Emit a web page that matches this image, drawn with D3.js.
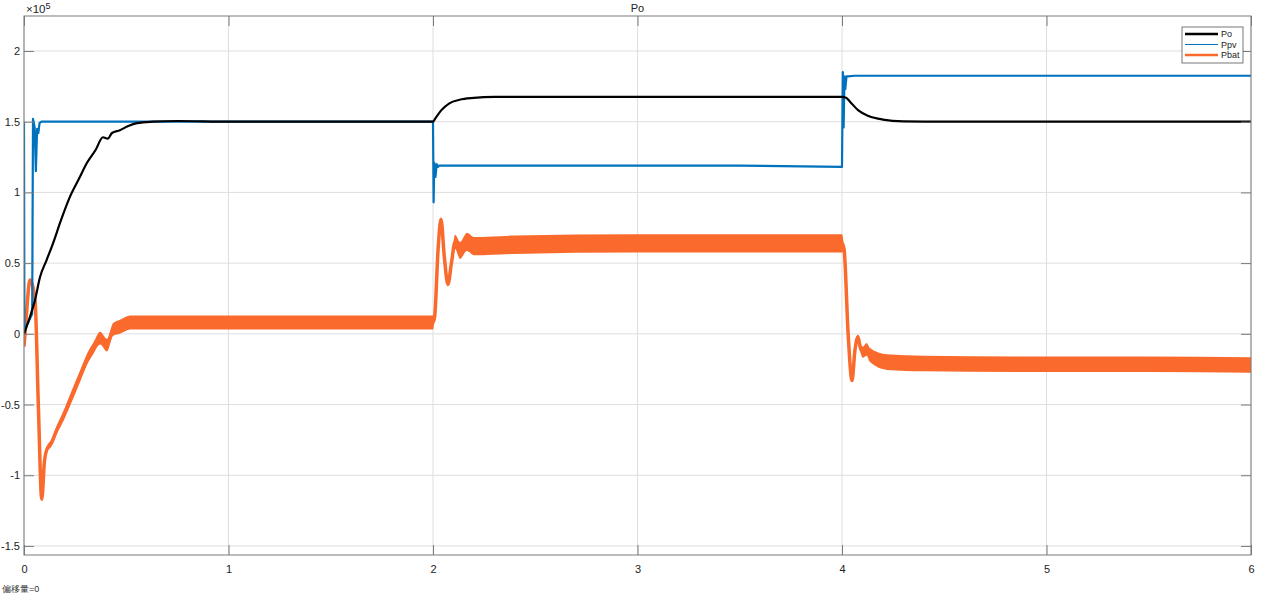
<!DOCTYPE html>
<html><head><meta charset="utf-8">
<script src="https://cdn.jsdelivr.net/npm/d3@7"></script>
<style>
body{margin:0;background:#fff;}
svg{display:block;font-family:"Liberation Sans","DejaVu Sans",Arial,sans-serif;}
</style></head>
<body><svg id="c" width="1262" height="596"></svg>
<script>
// Data (values in units of 1e5)
const xTicks = [0,1,2,3,4,5,6];
const yTicks = [-1.5,-1,-0.5,0,0.5,1,1.5,2];
const yTickLabels = ["-1.5","-1","-0.5","0","0.5","1","1.5","2"];
const seriesNames = ["Po","Ppv","Pbat"];

const poT = [0,0.02,0.04,0.054,0.078,0.11,0.142,0.18,0.225,0.27,0.308,0.35,0.386,0.41,0.43,0.469,0.51,0.553,0.63,0.75,1.0,1.5,2.0,2.01,2.04,2.08,2.13,2.2,2.3,2.5,3.0,3.5,4.0,4.02,4.04,4.08,4.13,4.2,4.3,4.5,5.0,6.0];
const poV = [0,0.08,0.17,0.24,0.40,0.52,0.64,0.80,0.97,1.10,1.21,1.30,1.39,1.38,1.42,1.44,1.47,1.49,1.50,1.505,1.50,1.50,1.50,1.52,1.58,1.63,1.655,1.668,1.675,1.676,1.675,1.675,1.675,1.67,1.64,1.58,1.54,1.515,1.503,1.50,1.50,1.50];

const pvT = [0,0.002,0.02,0.04,0.044,0.047,0.052,0.058,0.064,0.07,0.076,0.085,0.1,0.5,1.0,1.5,2.0,2.003,2.006,2.012,2.018,2.024,2.03,2.06,2.5,3.0,3.5,3.999,4.0,4.004,4.008,4.012,4.016,4.022,4.03,4.06,4.5,5.0,5.5,6.0];
const pvV = [1.5,0.03,0.08,0.14,1.52,1.50,1.46,1.15,1.45,1.42,1.49,1.50,1.50,1.50,1.50,1.50,1.50,0.93,1.21,1.11,1.20,1.18,1.19,1.19,1.19,1.19,1.19,1.18,1.18,1.85,1.46,1.82,1.73,1.82,1.82,1.825,1.825,1.825,1.825,1.825];

const batT = [0,0.005,0.03,0.054,0.07,0.087,0.1,0.111,0.135,0.16,0.19,0.225,0.274,0.308,0.34,0.372,0.406,0.435,0.469,0.52,0.567,0.7,1.0,1.5,2.0,2.008,2.025,2.039,2.055,2.073,2.09,2.108,2.132,2.166,2.2,2.4,3.0,3.5,4.0,4.01,4.03,4.049,4.063,4.078,4.09,4.103,4.12,4.137,4.22,4.4,5.0,5.5,6.0];
const batV = [-0.09,0.0,0.38,0.24,-0.5,-1.17,-0.9,-0.82,-0.77,-0.68,-0.59,-0.47,-0.30,-0.18,-0.10,-0.03,-0.08,0.03,0.05,0.08,0.08,0.08,0.08,0.08,0.08,0.12,0.6,0.81,0.55,0.35,0.5,0.65,0.59,0.65,0.62,0.63,0.64,0.64,0.64,0.6,0.0,-0.33,-0.12,-0.02,-0.1,-0.13,-0.11,-0.15,-0.2,-0.21,-0.215,-0.215,-0.22];
const batRipple = [0,0,0,0,0,0,0.01,0.02,0.025,0.03,0.035,0.04,0.04,0.04,0.04,0.045,0.045,0.045,0.05,0.05,0.05,0.05,0.05,0.05,0.05,0.01,0.005,0.005,0.01,0.015,0.03,0.05,0.06,0.065,0.065,0.065,0.065,0.065,0.065,0.01,0.005,0.005,0.01,0.015,0.03,0.04,0.045,0.05,0.055,0.055,0.055,0.055,0.055];

const colors = {Po:"#000000", Ppv:"#0072BD", Pbat:"#FA6A2C"};

const svg = d3.select("#c");
const L=24, R=1251, T=16, B=555;
const x = d3.scaleLinear().domain([0,6]).range([L,R]);
const y = d3.scaleLinear().domain([-1.564,2.2475]).range([B,T]);

// grid
const g = svg.append("g");
g.selectAll("line.gx").data(xTicks).join("line")
  .attr("x1",d=>x(d)).attr("x2",d=>x(d)).attr("y1",T).attr("y2",B)
  .attr("stroke","#dedede").attr("stroke-width",1);
g.selectAll("line.gy").data(yTicks).join("line")
  .attr("y1",d=>y(d)).attr("y2",d=>y(d)).attr("x1",L).attr("x2",R)
  .attr("stroke","#dedede").attr("stroke-width",1);

svg.append("clipPath").attr("id","pc").append("rect")
  .attr("x",L).attr("y",T).attr("width",R-L).attr("height",B-T);
const plot = svg.append("g").attr("clip-path","url(#pc)");

// Pbat band
const batData = batT.map((t,i)=>({t, v:batV[i], r:batRipple[i]}));
plot.append("path").datum(batData)
  .attr("d", d3.area().x(d=>x(d.t)).y0(d=>y(d.v-d.r)).y1(d=>y(d.v+d.r)).curve(d3.curveMonotoneX))
  .attr("fill",colors.Pbat);
plot.append("path").datum(batData)
  .attr("d", d3.line().x(d=>x(d.t)).y(d=>y(d.v)).curve(d3.curveMonotoneX))
  .attr("fill","none").attr("stroke",colors.Pbat).attr("stroke-width",3.5).attr("stroke-linejoin","round");

// Ppv
const pvData = pvT.map((t,i)=>({t, v:pvV[i]}));
plot.append("path").datum(pvData)
  .attr("d", d3.line().x(d=>x(d.t)).y(d=>y(d.v)))
  .attr("fill","none").attr("stroke",colors.Ppv).attr("stroke-width",2.2).attr("stroke-linejoin","round");

// Po
const poData = poT.map((t,i)=>({t, v:poV[i]}));
plot.append("path").datum(poData)
  .attr("d", d3.line().x(d=>x(d.t)).y(d=>y(d.v)).curve(d3.curveMonotoneX))
  .attr("fill","none").attr("stroke",colors.Po).attr("stroke-width",2.2).attr("stroke-linejoin","round");

// axes
const axCol = "#7a7a7a";
const xb = svg.append("g").attr("transform",`translate(0,${B})`)
  .call(d3.axisBottom(x).tickValues(xTicks).tickSize(-10).tickPadding(10).tickFormat(d3.format("d")));
const xt = svg.append("g").attr("transform",`translate(0,${T})`)
  .call(d3.axisTop(x).tickValues(xTicks).tickSize(-10).tickFormat(""));
const yl = svg.append("g").attr("transform",`translate(${L},0)`)
  .call(d3.axisLeft(y).tickValues(yTicks).tickSize(-10).tickPadding(4)
    .tickFormat((d,i)=>yTickLabels[i]));
const yr = svg.append("g").attr("transform",`translate(${R},0)`)
  .call(d3.axisRight(y).tickValues(yTicks).tickSize(-10).tickFormat(""));
[xb,xt,yl,yr].forEach(a=>{
  a.select(".domain").remove();
  a.selectAll("line").attr("stroke",axCol);
  a.selectAll("text").attr("fill","#222").style("font-size","11px");
});
svg.append("rect").attr("x",L).attr("y",T).attr("width",R-L).attr("height",B-T)
  .attr("fill","none").attr("stroke",axCol).attr("stroke-width",1);

// exponent label
const ex = svg.append("text").attr("x",26).attr("y",13).attr("fill","#222").style("font-size","11.5px");
ex.append("tspan").text("×10");
ex.append("tspan").attr("dy",-4).style("font-size","9px").text("5");

// title
svg.append("text").attr("x",(L+R)/2).attr("y",12).attr("text-anchor","middle")
  .attr("fill","#222").style("font-size","11px").text("Po");

// legend
const lg = svg.append("g");
lg.append("rect").attr("x",1182).attr("y",27).attr("width",61).attr("height",36)
  .attr("fill","#fff").attr("stroke","#555").attr("stroke-width",0.8);
const lw = {Po:2.5, Ppv:1.2, Pbat:2.5};
seriesNames.forEach((n,i)=>{
  const yy = 34 + i*10.5;
  lg.append("line").attr("x1",1185).attr("x2",1218).attr("y1",yy).attr("y2",yy)
    .attr("stroke",colors[n]).attr("stroke-width",lw[n]);
  lg.append("text").attr("x",1221).attr("y",yy+3).attr("fill","#222")
    .style("font-size","9px").text(n);
});

// footer
svg.append("text").attr("x",2).attr("y",592).attr("fill","#333")
  .style("font-size","9px").text("偏移量=0");
</script></body></html>
